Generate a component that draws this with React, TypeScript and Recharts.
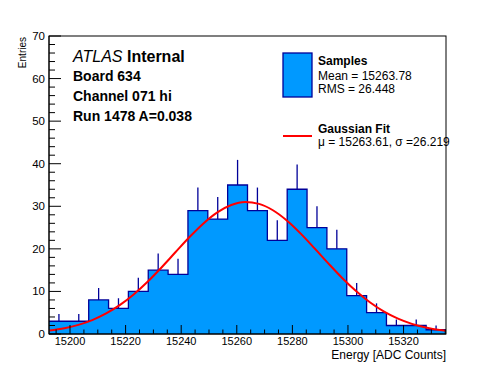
import { ComposedChart, Area, Line, Scatter, ErrorBar, XAxis, YAxis } from 'recharts';

// histogram: 20 bins between the axis limits
const xMin = 15192.44;
const xMax = 15335.27;
const counts = [3, 3, 8, 6, 10, 15, 14, 29, 27, 35, 29, 22, 34, 25, 20, 9, 5, 2, 2, 1];
const errors = [1.7, 1.7, 2.8, 2.4, 3.2, 3.9, 3.7, 5.4, 5.2, 5.9, 5.4, 4.7, 5.8, 5.0, 4.5, 3.0, 2.2, 1.4, 1.4, 1.0];

// gaussian fit curve
const fitX = [15192.5, 15198, 15203, 15208, 15213, 15218, 15223, 15228, 15233, 15238, 15243, 15248, 15253, 15258, 15263,
  15268, 15273, 15278, 15283, 15288, 15293, 15298, 15303, 15308, 15313, 15318, 15323, 15328, 15333, 15335.2];
const fitY = [0.8, 1.36, 2.15, 3.27, 4.82, 6.84, 9.35, 12.33, 15.69, 19.25, 22.77, 25.97, 28.57, 30.3, 31.0,
  30.57, 29.07, 26.66, 23.58, 20.11, 16.54, 13.11, 10.03, 7.39, 5.25, 3.6, 2.38, 1.52, 0.93, 0.76];

const xTicks = [15195, 15200, 15205, 15210, 15215, 15220, 15225, 15230, 15235, 15240, 15245, 15250, 15255, 15260,
  15265, 15270, 15275, 15280, 15285, 15290, 15295, 15300, 15305, 15310, 15315, 15320, 15325, 15330, 15335];
const yTicks = [0, 2, 4, 6, 8, 10, 12, 14, 16, 18, 20, 22, 24, 26, 28, 30, 32, 34, 36, 38, 40, 42, 44, 46, 48, 50,
  52, 54, 56, 58, 60, 62, 64, 66, 68, 70];

const FILL = '#0099ff';
const EDGE = '#000099';
const FONT = '"Liberation Sans", Arial, Helvetica, sans-serif';

const binW = (xMax - xMin) / counts.length;
const histRows = counts.map((c, i) => ({ x: xMin + i * binW, h: c }));
histRows.push({ x: xMax, h: counts[counts.length - 1] });
const fitRows = fitX.map((x, i) => ({ x, f: fitY[i] }));
const rows = [...histRows, ...fitRows].sort((a, b) => a.x - b.x);
const errRows = counts.map((c, i) => ({ x: xMin + (i + 0.5) * binW, y: c, err: [0, errors[i]] }));

function XTick(props: any) {
  const { x, y, payload } = props;
  const major = payload.value % 20 === 0;
  return (
    <g>
      <line x1={x} x2={x} y1={y} y2={y - (major ? 9 : 4.5)} stroke="#000" />
      {major && (
        <text x={x} y={y + 10.5} textAnchor="middle" fontSize={11} fontFamily={FONT} fill="#000">
          {payload.value}
        </text>
      )}
    </g>
  );
}

function YTick(props: any) {
  const { x, y, payload } = props;
  const major = payload.value % 10 === 0;
  return (
    <g>
      <line x1={x} x2={x + (major ? 12 : 6)} y1={y} y2={y} stroke="#000" />
      {major && (
        <text x={x - 4} y={y + 4} textAnchor="end" fontSize={11.5} fontFamily={FONT} fill="#000">
          {payload.value}
        </text>
      )}
    </g>
  );
}

export default function App() {
  return (
    <div style={{ position: 'absolute', left: 0, top: 0, width: 496, height: 372, background: '#fff' }}>
      <ComposedChart width={496} height={372} data={rows} margin={{ top: 36, right: 50, bottom: 0, left: 0 }}>
        <XAxis
          type="number"
          dataKey="x"
          domain={[xMin, xMax]}
          ticks={xTicks}
          interval={0}
          allowDataOverflow
          height={38}
          tickSize={0}
          tickMargin={0}
          tickLine={false}
          axisLine={{ stroke: '#000' }}
          tick={<XTick />}
        />
        <YAxis
          type="number"
          domain={[0, 70]}
          ticks={yTicks}
          interval={0}
          allowDataOverflow
          width={49}
          tickSize={0}
          tickMargin={0}
          tickLine={false}
          axisLine={{ stroke: '#000' }}
          tick={<YTick />}
        />
        <Area
          type="stepAfter"
          dataKey="h"
          connectNulls
          fill={FILL}
          fillOpacity={1}
          stroke={EDGE}
          strokeWidth={1.3}
          dot={false}
          activeDot={false}
          isAnimationActive={false}
        />
        <Scatter data={errRows} dataKey="y" shape={() => <g />} isAnimationActive={false}>
          <ErrorBar dataKey="err" direction="y" width={0} stroke={EDGE} strokeWidth={1.3} />
        </Scatter>
        <Line
          type="monotone"
          dataKey="f"
          connectNulls
          stroke="#ff0000"
          strokeWidth={2}
          dot={false}
          activeDot={false}
          isAnimationActive={false}
        />
      </ComposedChart>
      <svg width={496} height={372} style={{ position: 'absolute', left: 0, top: 0, pointerEvents: 'none' }} fontFamily={FONT}>
        <rect x={49} y={36} width={397} height={298} fill="none" stroke="#000" />
        <text x={0} y={0} transform="translate(25.5,37) rotate(-90)" textAnchor="end" fontSize={10}>Entries</text>
        <text x={446} y={358.5} textAnchor="end" fontSize={12}>Energy [ADC Counts]</text>
        <text x={73} y={62} fontSize={16}>
          <tspan fontStyle="italic">ATLAS</tspan>
          <tspan fontWeight="bold"> Internal</tspan>
        </text>
        <text x={73} y={81} fontSize={14} fontWeight="bold">Board 634</text>
        <text x={73} y={101} fontSize={14} fontWeight="bold">Channel 071 hi</text>
        <text x={73} y={121} fontSize={14} fontWeight="bold">Run 1478 A=0.038</text>
        <rect x={283} y={53} width={29} height={44} fill={FILL} stroke={EDGE} strokeWidth={1.3} />
        <text x={318} y={65} fontSize={12} fontWeight="bold">Samples</text>
        <text x={318} y={80} fontSize={12}>Mean = 15263.78</text>
        <text x={318} y={93} fontSize={12}>RMS = 26.448</text>
        <line x1={283} x2={312} y1={136} y2={136} stroke="#ff0000" strokeWidth={2} />
        <text x={318} y={133} fontSize={12} fontWeight="bold">Gaussian Fit</text>
        <text x={318} y={146} fontSize={12}>μ = 15263.61, σ =26.219</text>
      </svg>
    </div>
  );
}
